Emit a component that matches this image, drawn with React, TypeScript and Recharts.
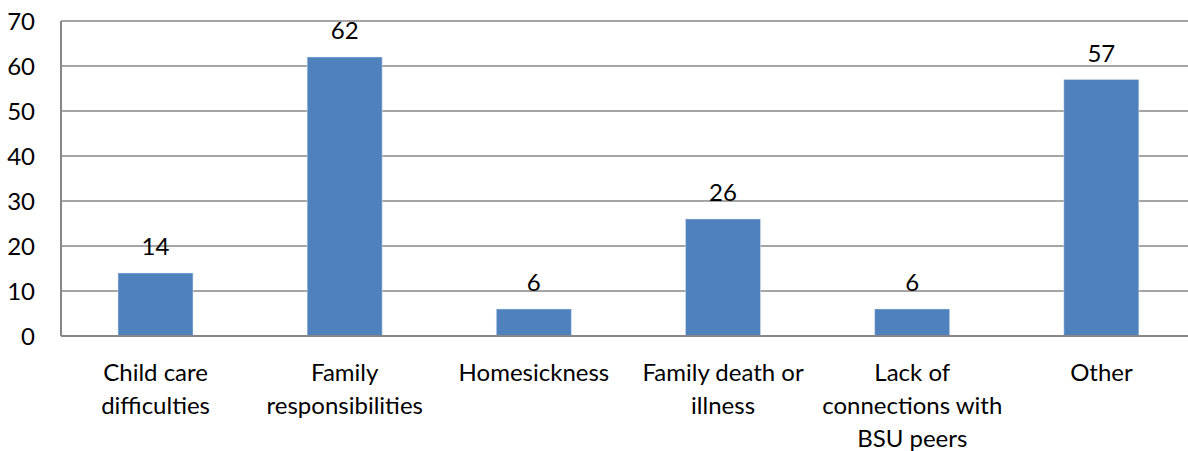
import React from 'react';
import { BarChart, Bar, XAxis, YAxis, CartesianGrid, LabelList } from 'recharts';

const categories = [
  'Child care difficulties',
  'Family responsibilities',
  'Homesickness',
  'Family death or illness',
  'Lack of connections with BSU peers',
  'Other',
];
const counts = [14, 62, 6, 26, 6, 57];
// how Excel wrapped each category label
const labelLines = [
  ['Child care', 'difficulties'],
  ['Family', 'responsibilities'],
  ['Homesickness'],
  ['Family death or', 'illness'],
  ['Lack of', 'connections with', 'BSU peers'],
  ['Other'],
];
const yTicks = [0, 10, 20, 30, 40, 50, 60, 70];

const data = categories.map((name, i) => ({ name, value: counts[i] }));

const FONT = 'Lato, "Open Sans", sans-serif';

function CategoryTick(props: any) {
  const { x, y, payload, index } = props;
  const lines = labelLines[index] || [payload.value];
  return (
    <g transform={`translate(${x},${y})`}>
      {lines.map((line: string, i: number) => (
        <text
          key={i}
          x={0}
          y={27 + i * 33}
          textAnchor="middle"
          dominantBaseline="central"
          fontSize={24}
          fontFamily={FONT}
          fill="#000"
        >
          {line}
        </text>
      ))}
    </g>
  );
}

export default function App() {
  return (
    <div style={{ width: 1188, height: 451, overflow: 'hidden', background: '#fff' }}>
      <style>{`body{margin:0}`}</style>
      <BarChart
        width={1196}
        height={451}
        data={data}
        margin={{ top: 21, right: 0, left: 0, bottom: 0 }}
        barCategoryGap={57}
      >
        <CartesianGrid vertical={false} stroke="#878787" strokeWidth={1.5} />
        <XAxis
          dataKey="name"
          height={115}
          axisLine={{ stroke: '#878787', strokeWidth: 2 }}
          tickLine={false}
          interval={0}
          tick={<CategoryTick />}
        />
        <YAxis
          width={61}
          domain={[0, 70]}
          ticks={yTicks}
          interval={0}
          axisLine={{ stroke: '#878787', strokeWidth: 2 }}
          tickLine={false}
          tickSize={6}
          tickMargin={20}
          tick={{ fontSize: 24, fontFamily: FONT, fill: '#000' }}
        />
        <Bar dataKey="value" fill="#4F81BD" stroke="#DCE6F2" strokeWidth={0.5} isAnimationActive={false}>
          <LabelList
            dataKey="value"
            position="top"
            offset={18}
            style={{ fontSize: 24, fontFamily: FONT, fill: '#000' }}
          />
        </Bar>
      </BarChart>
    </div>
  );
}
